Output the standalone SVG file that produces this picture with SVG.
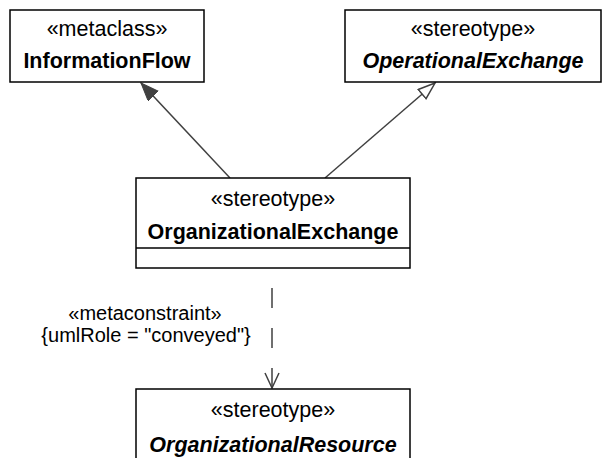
<svg xmlns="http://www.w3.org/2000/svg" width="602" height="458" viewBox="0 0 602 458">
<style>
.box{fill:#fff;stroke:#000;stroke-width:1.5}
.t{font-family:"Liberation Sans",Arial,sans-serif;font-size:21.5px;fill:#000;text-anchor:middle}
.b{font-weight:bold}
.i{font-style:italic}
.c{stroke:#404040;stroke-width:1.5;fill:none}
.lbl{font-family:"Liberation Sans",Arial,sans-serif;font-size:20px;fill:#000;text-anchor:middle}
</style>
<defs>
<marker id="filled" markerWidth="20" markerHeight="16" refX="18" refY="7" orient="auto" markerUnits="userSpaceOnUse">
<path d="M0,0 L18,7 L0,14 Z" fill="#404040" stroke="#404040" stroke-width="1"/>
</marker>
<marker id="hollow" markerWidth="20" markerHeight="16" refX="18" refY="7" orient="auto" markerUnits="userSpaceOnUse">
<path d="M1,1 L18,7 L1,13 Z" fill="#fff" stroke="#404040" stroke-width="1.5"/>
</marker>
</defs>
<g id="connectors">
<line class="c" x1="230" y1="178" x2="141" y2="83" marker-end="url(#filled)"/>
<line class="c" x1="325" y1="178" x2="435" y2="83" marker-end="url(#hollow)"/>
<line class="c" x1="272" y1="268" x2="272" y2="388" stroke-dasharray="20,20" stroke-dashoffset="20"/>
<path class="c" d="M265,373 L272,388 L279,373"/>
<text class="lbl" x="145" y="320">«metaconstraint»</text>
<text class="lbl" x="146" y="342">{umlRole = "conveyed"}</text>
</g>
<g id="InformationFlow">
<rect class="box" x="10" y="10" width="194" height="72"/>
<text class="t" x="107" y="36">«metaclass»</text>
<text class="t b" x="107" y="68">InformationFlow</text>
</g>
<g id="OperationalExchange">
<rect class="box" x="345" y="10" width="256" height="72"/>
<text class="t" x="473" y="36">«stereotype»</text>
<text class="t b i" x="473" y="68">OperationalExchange</text>
</g>
<g id="OrganizationalExchange">
<rect class="box" x="136" y="178" width="274" height="90"/>
<line class="box" x1="136" y1="248" x2="410" y2="248"/>
<text class="t" x="273" y="206">«stereotype»</text>
<text class="t b" x="273" y="239">OrganizationalExchange</text>
</g>
<g id="OrganizationalResource">
<rect class="box" x="136" y="389" width="274" height="80"/>
<text class="t" x="273" y="417">«stereotype»</text>
<text class="t b i" x="273" y="452">OrganizationalResource</text>
</g>
</svg>
